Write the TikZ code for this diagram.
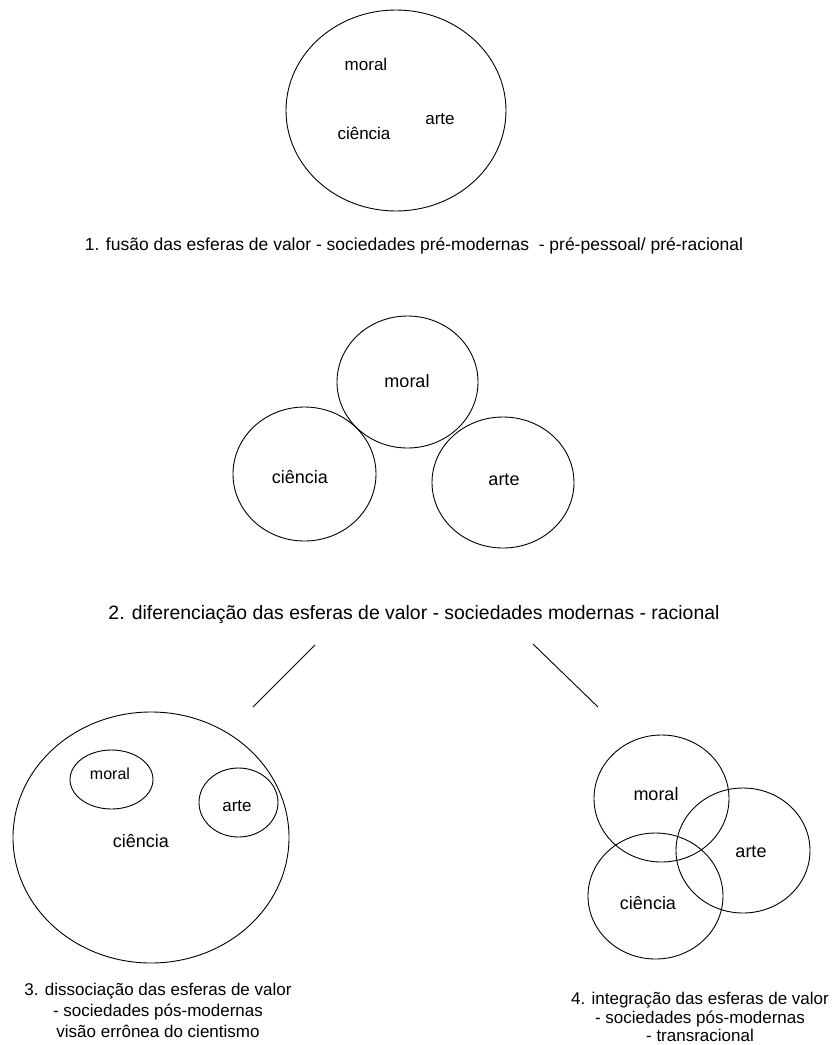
\documentclass[tikz,border=0pt]{standalone}
\usepackage{fontspec}
\setmainfont{Liberation Sans}
\usetikzlibrary{shapes.geometric}

\tikzset{
  sphere/.style={draw=black, line width=0.9pt, ellipse, inner sep=0pt},
  lbl/.style={inner sep=0pt, font=\fontsize{18}{21}\selectfont},
  lblsmall/.style={inner sep=0pt, font=\fontsize{17}{20}\selectfont},
  caption/.style={inner sep=0pt, align=center, font=\fontsize{17}{21}\selectfont},
  link/.style={draw=black, line width=0.9pt},
}

\begin{document}
\begin{tikzpicture}[x=1pt, y=-1pt]
  % page frame
  \fill[white] (0,0) rectangle (831,1045);
  \path[use as bounding box] (0,0) rectangle (831,1045);

  % 1. fused spheres
  \node[sphere, minimum width=220pt, minimum height=201pt] (fusion) at (396,110.5) {};
  \node[lblsmall] (f-moral) at (366,64.5) {moral};
  \node[lblsmall] (f-arte) at (440,119) {arte};
  \node[lblsmall] (f-ciencia) at (364,133) {ciência};
  \node[inner sep=0pt, font=\fontsize{17.5}{21}\selectfont] (cap1) at (414,246)
    {1. fusão das esferas de valor - sociedades pré-modernas \ - pré-pessoal/ pré-racional};

  % 2. differentiated spheres
  \node[sphere, minimum width=141pt, minimum height=132pt] (d-moral) at (407.5,382) {};
  \node[sphere, minimum width=143pt, minimum height=134pt] (d-ciencia) at (304.5,474) {};
  \node[sphere, minimum width=142pt, minimum height=131pt] (d-arte) at (503,482.5) {};
  \node[lbl] at (407,381) {moral};
  \node[lbl] at (300,477) {ciência};
  \node[lbl] at (504,480) {arte};
  \node[inner sep=0pt, font=\fontsize{19.4}{23}\selectfont] (cap2) at (414,615)
    {2. diferenciação das esferas de valor - sociedades modernas - racional};

  % branches towards the two outcomes
  \coordinate (bl-top) at (315,645);
  \coordinate (bl-end) at (253,707);
  \coordinate (br-top) at (533,644);
  \coordinate (br-end) at (598,707);
  \draw[link] (bl-top) -- (bl-end);
  \draw[link] (br-top) -- (br-end);

  % 3. dissociation: science swallows the others
  \node[sphere, minimum width=276pt, minimum height=251pt] (s-ciencia) at (151,837.5) {};
  \node[sphere, minimum width=83pt, minimum height=59pt] (s-moral) at (111.5,779.5) {};
  \node[sphere, minimum width=79pt, minimum height=69pt] (s-arte) at (238.5,802.5) {};
  \node[inner sep=0pt, font=\fontsize{16}{20}\selectfont] at (110,774) {moral};
  \node[lblsmall] at (237,806) {arte};
  \node[lbl] at (141,841) {ciência};
  \node[caption, anchor=north] (cap3) at (158,983)
    {3. dissociação das esferas de valor\\
     - sociedades pós-modernas\\
     visão errônea do cientismo};

  % 4. integration: overlapping spheres
  \node[sphere, minimum width=135pt, minimum height=127pt] (i-moral) at (661.5,798.5) {};
  \node[sphere, minimum width=134pt, minimum height=125pt] (i-arte) at (743,850.5) {};
  \node[sphere, minimum width=135pt, minimum height=126pt] (i-ciencia) at (655.5,896) {};
  \node[lbl] at (656,794) {moral};
  \node[lbl] at (751,852) {arte};
  \node[lbl] at (648,903) {ciência};
  \node[caption, anchor=north, font=\fontsize{17}{18.5}\selectfont] (cap4) at (700,992)
    {4. integração das esferas de valor\\
     - sociedades pós-modernas\\
     - transracional};
\end{tikzpicture}
\end{document}
